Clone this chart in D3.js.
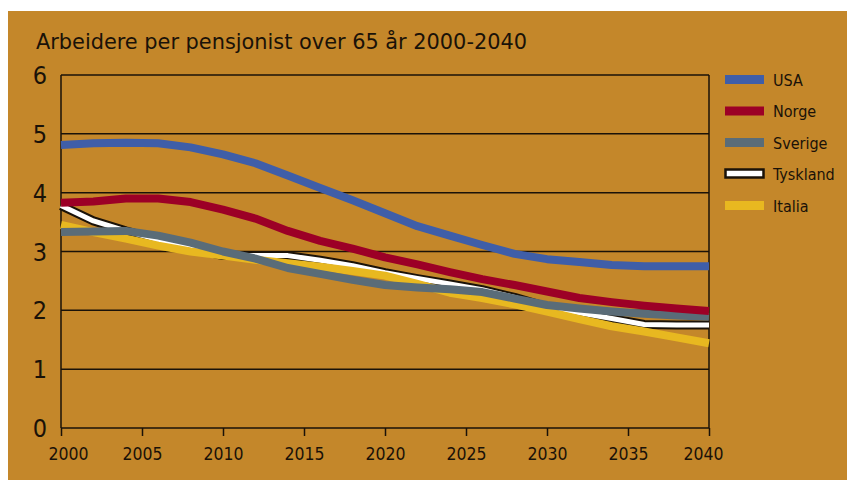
<!DOCTYPE html>
<html>
<head>
<meta charset="utf-8">
<script src="https://cdn.jsdelivr.net/npm/d3@7/dist/d3.min.js"></script>
<style>
  html, body { margin: 0; padding: 0; background: #ffffff; }
  svg { display: block; }
  text { font-family: "DejaVu Sans Condensed", "DejaVu Sans", sans-serif; fill: #1a1208; }
</style>
</head>
<body>
<svg id="chart" width="848" height="484"></svg>
<script>
const title = "Arbeidere per pensjonist over 65 år 2000-2040";
const years = [2000, 2002, 2004, 2006, 2008, 2010, 2012, 2014, 2016, 2018, 2020,
               2022, 2024, 2026, 2028, 2030, 2032, 2034, 2036, 2038, 2040];
const usa      = [4.81, 4.84, 4.85, 4.84, 4.77, 4.65, 4.50, 4.29, 4.08, 3.87, 3.65,
                  3.43, 3.27, 3.11, 2.96, 2.87, 2.82, 2.77, 2.75, 2.75, 2.75];
const norge    = [3.83, 3.85, 3.90, 3.90, 3.84, 3.71, 3.56, 3.35, 3.18, 3.05, 2.90,
                  2.78, 2.65, 2.53, 2.43, 2.32, 2.21, 2.14, 2.08, 2.03, 1.99];
const sverige  = [3.33, 3.34, 3.35, 3.27, 3.15, 3.00, 2.88, 2.72, 2.62, 2.52, 2.43,
                  2.39, 2.36, 2.31, 2.20, 2.09, 2.03, 1.98, 1.94, 1.91, 1.89];
const tyskland = [3.78, 3.52, 3.35, 3.20, 3.05, 2.93, 2.93, 2.93, 2.85, 2.76, 2.64,
                  2.54, 2.45, 2.35, 2.22, 2.06, 1.96, 1.86, 1.76, 1.75, 1.75];
const italia   = [3.45, 3.33, 3.22, 3.10, 3.00, 2.93, 2.86, 2.80, 2.74, 2.67, 2.59,
                  2.45, 2.30, 2.21, 2.10, 1.98, 1.85, 1.73, 1.64, 1.54, 1.44];
const seriesNames = ["USA", "Norge", "Sverige", "Tyskland", "Italia"];
const seriesValues = [usa, norge, sverige, tyskland, italia];
const seriesColors = ["#3f5ea8", "#9c0026", "#5a6c78", "#ffffff", "#e8b820"];
const yTicks = [0, 1, 2, 3, 4, 5, 6];
const xTicks = [2000, 2005, 2010, 2015, 2020, 2025, 2030, 2035, 2040];

(function () {
const svg = d3.select("#chart");
const ink = "#1a1208";

svg.append("rect").attr("x", 8).attr("y", 11).attr("width", 839).attr("height", 469)
  .attr("fill", "#c4872a");

svg.append("text").attr("x", 36).attr("y", 48.5)
  .attr("font-size", 21).attr("textLength", 491).attr("lengthAdjust", "spacingAndGlyphs")
  .text(title);

const pL = 61, pR = 709, pT = 75, pB = 428;
const x = d3.scaleLinear().domain([2000, 2040]).range([pL, pR]);
const y = d3.scaleLinear().domain([0, 6]).range([pB, pT]);

// gridlines
svg.append("g").selectAll("line").data(yTicks).join("line")
  .attr("x1", pL).attr("x2", pR)
  .attr("y1", d => y(d)).attr("y2", d => y(d))
  .attr("stroke", ink).attr("stroke-width", 1.5);
// frame verticals
svg.append("line").attr("x1", pL).attr("x2", pL).attr("y1", pT).attr("y2", pB)
  .attr("stroke", ink).attr("stroke-width", 1.5);
svg.append("line").attr("x1", pR).attr("x2", pR).attr("y1", pT).attr("y2", pB)
  .attr("stroke", ink).attr("stroke-width", 1.5);

// y labels
svg.append("g").selectAll("text").data(yTicks).join("text")
  .attr("x", 47).attr("y", d => y(d) + 9)
  .attr("text-anchor", "end").attr("font-size", 25)
  .text(d => d);

// x axis
const xAxis = d3.axisBottom(x).tickValues(xTicks).tickFormat(d3.format("d"))
  .tickSize(8).tickPadding(12);
const gx = svg.append("g").attr("transform", `translate(0,${pB})`).call(xAxis);
gx.select(".domain").remove();
gx.selectAll(".tick line").attr("stroke", ink).attr("stroke-width", 1.5);
gx.selectAll(".tick text").attr("font-size", 17.5).attr("fill", ink)
  .attr("font-family", "DejaVu Sans Condensed, DejaVu Sans, sans-serif")
  .attr("dx", (d, i) => i === 0 ? 7 : (i === xTicks.length - 1 ? -6 : 0));

const line = d3.line().x((d, i) => x(years[i])).y(d => y(d));

// draw order: Tyskland, Italia, Sverige, Norge, USA
const order = [3, 4, 2, 1, 0];
const lg = svg.append("g");
order.forEach(k => {
  if (seriesNames[k] === "Tyskland") {
    lg.append("path").attr("d", line(seriesValues[k])).attr("fill", "none")
      .attr("stroke", ink).attr("stroke-width", 9).attr("stroke-linejoin", "round");
    lg.append("path").attr("d", line(seriesValues[k])).attr("fill", "none")
      .attr("stroke", "#ffffff").attr("stroke-width", 5).attr("stroke-linejoin", "round");
  } else {
    lg.append("path").attr("d", line(seriesValues[k])).attr("fill", "none")
      .attr("stroke", seriesColors[k]).attr("stroke-width", 8).attr("stroke-linejoin", "round");
  }
});

// legend
const ly = d3.scalePoint().domain(seriesNames).range([79.5, 205.5]);
const leg = svg.append("g");
seriesNames.forEach((n, k) => {
  const cy = ly(n);
  if (n === "Tyskland") {
    leg.append("rect").attr("x", 725.5).attr("y", cy - 4.5).attr("width", 38).attr("height", 8)
      .attr("fill", "#ffffff").attr("stroke", ink).attr("stroke-width", 2.5);
  } else {
    leg.append("rect").attr("x", 725).attr("y", cy - 4.5).attr("width", 39).attr("height", 9)
      .attr("fill", seriesColors[k]);
  }
  leg.append("text").attr("x", 773).attr("y", cy + 6).attr("font-size", 16).text(n);
});
})();
</script>
</body>
</html>
